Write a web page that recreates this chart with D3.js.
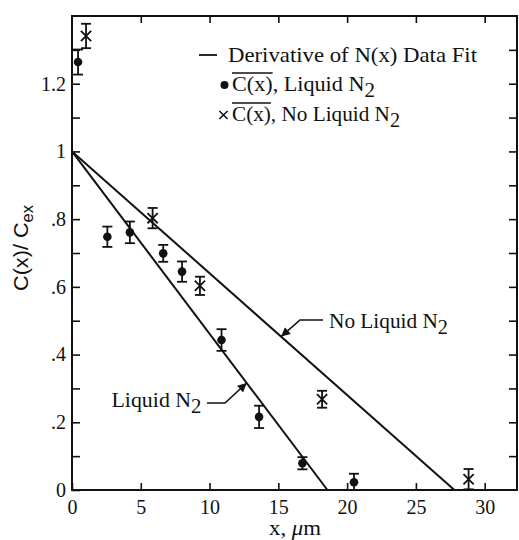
<!DOCTYPE html>
<html>
<head>
<meta charset="utf-8">
<script src="https://cdn.jsdelivr.net/npm/d3@7"></script>
<style>
  html, body { margin: 0; padding: 0; background: #fff; }
  svg { display: block; }
</style>
</head>
<body>
<svg id="chart" width="519" height="540"></svg>
<script>
// Measured profile C(x)/Cex, cooled with liquid nitrogen
const liquidX   = [0.44, 2.57, 4.21, 6.63, 8.0, 10.87, 13.6, 16.75, 20.5];
const liquidY   = [1.264, 0.748, 0.761, 0.699, 0.645, 0.443, 0.216, 0.079, 0.023];
const liquidErr = [0.037, 0.030, 0.032, 0.025, 0.030, 0.032, 0.033, 0.018, 0.025];

// Same measurement without liquid nitrogen
const noLiquidX   = [1.02, 5.86, 9.3, 18.18, 28.83];
const noLiquidY   = [1.341, 0.803, 0.603, 0.268, 0.032];
const noLiquidErr = [0.036, 0.030, 0.027, 0.025, 0.030];

// Derivative of the N(x) fit: straight lines from 1 at x = 0 down to 0
const fitStart = 1;
const liquidFitZero = 18.57;
const noLiquidFitZero = 27.8;

// Axis ticks
const xTicks = [0, 5, 10, 15, 20, 25, 30];
const yMajorTicks = [0, 0.2, 0.4, 0.6, 0.8, 1.0, 1.2];
const yTickLabels = ["0", ".2", ".4", ".6", ".8", "1", "1.2"];
const yMinorTicks = [0.1, 0.3, 0.5, 0.7, 0.9, 1.1, 1.3];

const SERIF = "'Liberation Serif', 'Times New Roman', Times, serif";
const SANS = "'Liberation Sans', Arial, Helvetica, sans-serif";

const svg = d3.select("#chart");
const plotLeft = 72, plotRight = 517, plotTop = 16, plotBottom = 490;

const x = d3.scaleLinear().domain([0, 32.35]).range([plotLeft, plotRight]);
const y = d3.scaleLinear().domain([0, 1.4]).range([plotBottom, plotTop]);

const ink = "#111";

// Frame
svg.append("rect")
  .attr("x", plotLeft).attr("y", plotTop)
  .attr("width", plotRight - plotLeft).attr("height", plotBottom - plotTop)
  .attr("fill", "none").attr("stroke", ink).attr("stroke-width", 2);

function styleAxis(g) {
  g.attr("font-family", SERIF).attr("font-size", "20px");
  g.select(".domain").remove();
  g.selectAll(".tick line").attr("stroke", ink).attr("stroke-width", 1.6);
  g.selectAll(".tick text")
    .attr("fill", ink)
    .attr("font-family", SERIF)
    .attr("font-size", "20px");
}

// Left axis with labelled major ticks
svg.append("g")
  .attr("transform", `translate(${plotLeft},0)`)
  .call(d3.axisLeft(y).tickValues(yMajorTicks).tickSize(-8).tickPadding(6)
    .tickFormat((d, i) => yTickLabels[i]))
  .call(styleAxis);

// Left minor ticks
svg.append("g")
  .attr("transform", `translate(${plotLeft},0)`)
  .call(d3.axisLeft(y).tickValues(yMinorTicks).tickSize(-8).tickFormat(""))
  .call(styleAxis);

// Right ticks (inward)
svg.append("g")
  .attr("transform", `translate(${plotRight},0)`)
  .call(d3.axisRight(y).tickValues(yMajorTicks.concat(yMinorTicks).filter(d => d > 0))
    .tickSize(-8).tickFormat(""))
  .call(styleAxis);

// Bottom axis
svg.append("g")
  .attr("transform", `translate(0,${plotBottom})`)
  .call(d3.axisBottom(x).tickValues(xTicks).tickSize(-7).tickPadding(9.5))
  .call(styleAxis);

// Top ticks
svg.append("g")
  .attr("transform", `translate(0,${plotTop})`)
  .call(d3.axisTop(x).tickValues(xTicks.filter(d => d > 0)).tickSize(-7).tickFormat(""))
  .call(styleAxis);

// Fit lines
const fitLine = d3.line().x(d => x(d[0])).y(d => y(d[1]));
[liquidFitZero, noLiquidFitZero].forEach(z => {
  svg.append("path")
    .attr("d", fitLine([[0, fitStart], [z, 0]]))
    .attr("fill", "none").attr("stroke", ink).attr("stroke-width", 2);
});

// Error bars
function errorBars(xs, ys, es) {
  const g = svg.append("g").attr("stroke", ink).attr("stroke-width", 1.8);
  xs.forEach((xv, i) => {
    const cx = x(xv), y1 = y(Math.max(0, ys[i] - es[i])), y2 = y(ys[i] + es[i]);
    g.append("line").attr("x1", cx).attr("x2", cx).attr("y1", y1).attr("y2", y2);
    g.append("line").attr("x1", cx - 5).attr("x2", cx + 5).attr("y1", y2).attr("y2", y2);
    g.append("line").attr("x1", cx - 5).attr("x2", cx + 5).attr("y1", y1).attr("y2", y1);
  });
}
errorBars(liquidX, liquidY, liquidErr);
errorBars(noLiquidX, noLiquidY, noLiquidErr);

// Markers
svg.append("g").selectAll("circle")
  .data(liquidX.map((d, i) => [d, liquidY[i]]))
  .join("circle")
  .attr("cx", d => x(d[0])).attr("cy", d => y(d[1]))
  .attr("r", 4.3).attr("fill", ink);

const cross = d3.symbol().type(d3.symbolX).size(70);
svg.append("g").selectAll("path")
  .data(noLiquidX.map((d, i) => [d, noLiquidY[i]]))
  .join("path")
  .attr("transform", d => `translate(${x(d[0])},${y(d[1])})`)
  .attr("d", cross)
  .attr("fill", "none").attr("stroke", ink).attr("stroke-width", 1.8);

// Text helpers
function serifText(parent, tx, ty, size) {
  return parent.append("text")
    .attr("x", tx).attr("y", ty)
    .attr("fill", ink)
    .attr("font-family", SERIF)
    .attr("font-size", size + "px");
}
// Fit a text run to a set width; returns the horizontal stretch applied
function fitWidth(t, width) {
  const natural = t.node().getComputedTextLength();
  t.attr("textLength", width).attr("lengthAdjust", "spacingAndGlyphs");
  return width / natural;
}

// Legend
const lg = svg.append("g");
lg.append("line").attr("x1", 199).attr("x2", 217).attr("y1", 55).attr("y2", 55)
  .attr("stroke", ink).attr("stroke-width", 1.8);
fitWidth(serifText(lg, 228, 62, 21).text("Derivative of N(x) Data Fit"), 249);

lg.append("circle").attr("cx", 224.5).attr("cy", 85).attr("r", 4).attr("fill", ink);
lg.append("path").attr("transform", "translate(223.5,115)")
  .attr("d", d3.symbol().type(d3.symbolX).size(45))
  .attr("fill", "none").attr("stroke", ink).attr("stroke-width", 1.5);

function barredEntry(yBase, rest, width) {
  const t = serifText(lg, 232, yBase, 21);
  t.append("tspan").text("C(x)");
  t.append("tspan").text(rest);
  t.append("tspan").attr("dy", 6).attr("font-size", "20px").text("2");
  const w = t.node().getSubStringLength(0, 4);
  const k = fitWidth(t, width);
  lg.append("line")
    .attr("x1", 232).attr("x2", 232 + w * k)
    .attr("y1", yBase - 18).attr("y2", yBase - 18)
    .attr("stroke", ink).attr("stroke-width", 1.5);
}
barredEntry(91, ", Liquid N", 143);
barredEntry(121, ", No Liquid N", 168);

// Arrow annotations on the fit lines
svg.append("defs").append("marker")
  .attr("id", "arrowhead")
  .attr("viewBox", "0 0 10 10").attr("refX", 10).attr("refY", 5)
  .attr("markerWidth", 11).attr("markerHeight", 9)
  .attr("markerUnits", "userSpaceOnUse")
  .attr("orient", "auto")
  .append("path").attr("d", "M0,0 L10,5 L0,10 Z").attr("fill", ink);

function annotate(zero, atX, label, textX, textY, width, leader) {
  const tip = [x(atX), y(fitStart * (1 - atX / zero))];
  const pts = leader.concat([tip]);
  svg.append("path")
    .attr("d", d3.line()(pts))
    .attr("fill", "none").attr("stroke", ink).attr("stroke-width", 1.6)
    .attr("marker-end", "url(#arrowhead)");
  const t = serifText(svg, textX, textY, 21);
  t.append("tspan").text(label);
  t.append("tspan").attr("dy", 6).attr("font-size", "20px").text("2");
  fitWidth(t, width);
}
annotate(noLiquidFitZero, 15.2, "No Liquid N", 329, 328, 119, [[323, 320], [300, 320]]);
annotate(liquidFitZero, 12.7, "Liquid N", 111.5, 407, 90, [[207, 403], [225, 403]]);

// Axis titles
const yt = svg.append("text")
  .attr("fill", ink).attr("font-family", SANS)
  .attr("font-size", "21px").attr("text-anchor", "middle")
  .attr("transform", "translate(28,248) rotate(-90)");
yt.append("tspan").text("C(x)/ C");
yt.append("tspan").attr("dy", 5).attr("font-size", "16px").text("ex");
fitWidth(yt, 86);

const xt = serifText(svg, 295, 535, 21).attr("text-anchor", "middle");
xt.append("tspan").text("x, ");
xt.append("tspan").attr("font-style", "italic").text("μ");
xt.append("tspan").text("m");
fitWidth(xt, 52);
</script>
</body>
</html>
